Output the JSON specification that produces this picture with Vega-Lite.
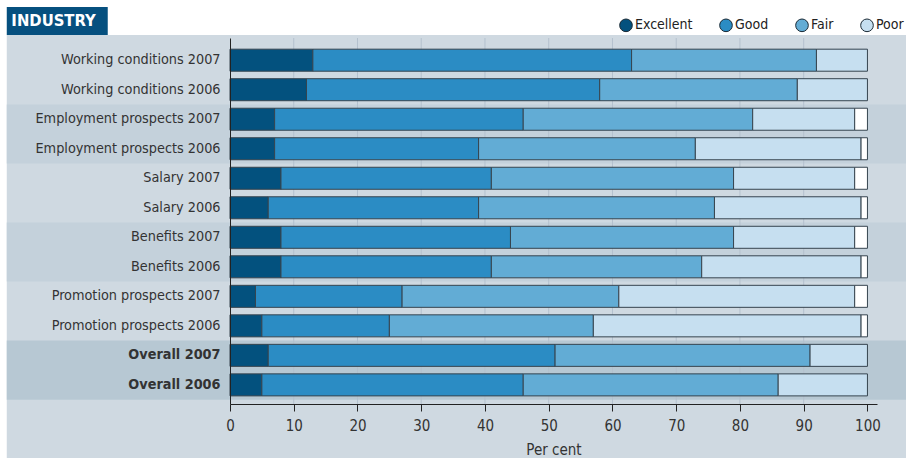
{
  "$schema": "https://vega.github.io/schema/vega-lite/v6.json",
  "width": 647,
  "height": 366,
  "autosize": {"type": "none"},
  "padding": {"left": 230, "top": 38, "right": 29, "bottom": 54},
  "background": "#ffffff",
  "config": {
    "view": {"stroke": null},
    "font": "DejaVu Sans Condensed, sans-serif"
  },
  "datasets": {
    "ratings": [
      {"row": "Working conditions 2007", "rating": "Excellent", "ord": 1, "value": 13},
      {"row": "Working conditions 2007", "rating": "Good", "ord": 2, "value": 50},
      {"row": "Working conditions 2007", "rating": "Fair", "ord": 3, "value": 29},
      {"row": "Working conditions 2007", "rating": "Poor", "ord": 4, "value": 8},
      {"row": "Working conditions 2006", "rating": "Excellent", "ord": 1, "value": 12},
      {"row": "Working conditions 2006", "rating": "Good", "ord": 2, "value": 46},
      {"row": "Working conditions 2006", "rating": "Fair", "ord": 3, "value": 31},
      {"row": "Working conditions 2006", "rating": "Poor", "ord": 4, "value": 11},
      {"row": "Employment prospects 2007", "rating": "Excellent", "ord": 1, "value": 7},
      {"row": "Employment prospects 2007", "rating": "Good", "ord": 2, "value": 39},
      {"row": "Employment prospects 2007", "rating": "Fair", "ord": 3, "value": 36},
      {"row": "Employment prospects 2007", "rating": "Poor", "ord": 4, "value": 16},
      {"row": "Employment prospects 2007", "rating": "Very poor", "ord": 5, "value": 2},
      {"row": "Employment prospects 2006", "rating": "Excellent", "ord": 1, "value": 7},
      {"row": "Employment prospects 2006", "rating": "Good", "ord": 2, "value": 32},
      {"row": "Employment prospects 2006", "rating": "Fair", "ord": 3, "value": 34},
      {"row": "Employment prospects 2006", "rating": "Poor", "ord": 4, "value": 26},
      {"row": "Employment prospects 2006", "rating": "Very poor", "ord": 5, "value": 1},
      {"row": "Salary 2007", "rating": "Excellent", "ord": 1, "value": 8},
      {"row": "Salary 2007", "rating": "Good", "ord": 2, "value": 33},
      {"row": "Salary 2007", "rating": "Fair", "ord": 3, "value": 38},
      {"row": "Salary 2007", "rating": "Poor", "ord": 4, "value": 19},
      {"row": "Salary 2007", "rating": "Very poor", "ord": 5, "value": 2},
      {"row": "Salary 2006", "rating": "Excellent", "ord": 1, "value": 6},
      {"row": "Salary 2006", "rating": "Good", "ord": 2, "value": 33},
      {"row": "Salary 2006", "rating": "Fair", "ord": 3, "value": 37},
      {"row": "Salary 2006", "rating": "Poor", "ord": 4, "value": 23},
      {"row": "Salary 2006", "rating": "Very poor", "ord": 5, "value": 1},
      {"row": "Benefits 2007", "rating": "Excellent", "ord": 1, "value": 8},
      {"row": "Benefits 2007", "rating": "Good", "ord": 2, "value": 36},
      {"row": "Benefits 2007", "rating": "Fair", "ord": 3, "value": 35},
      {"row": "Benefits 2007", "rating": "Poor", "ord": 4, "value": 19},
      {"row": "Benefits 2007", "rating": "Very poor", "ord": 5, "value": 2},
      {"row": "Benefits 2006", "rating": "Excellent", "ord": 1, "value": 8},
      {"row": "Benefits 2006", "rating": "Good", "ord": 2, "value": 33},
      {"row": "Benefits 2006", "rating": "Fair", "ord": 3, "value": 33},
      {"row": "Benefits 2006", "rating": "Poor", "ord": 4, "value": 25},
      {"row": "Benefits 2006", "rating": "Very poor", "ord": 5, "value": 1},
      {"row": "Promotion prospects 2007", "rating": "Excellent", "ord": 1, "value": 4},
      {"row": "Promotion prospects 2007", "rating": "Good", "ord": 2, "value": 23},
      {"row": "Promotion prospects 2007", "rating": "Fair", "ord": 3, "value": 34},
      {"row": "Promotion prospects 2007", "rating": "Poor", "ord": 4, "value": 37},
      {"row": "Promotion prospects 2007", "rating": "Very poor", "ord": 5, "value": 2},
      {"row": "Promotion prospects 2006", "rating": "Excellent", "ord": 1, "value": 5},
      {"row": "Promotion prospects 2006", "rating": "Good", "ord": 2, "value": 20},
      {"row": "Promotion prospects 2006", "rating": "Fair", "ord": 3, "value": 32},
      {"row": "Promotion prospects 2006", "rating": "Poor", "ord": 4, "value": 42},
      {"row": "Promotion prospects 2006", "rating": "Very poor", "ord": 5, "value": 1},
      {"row": "Overall 2007", "rating": "Excellent", "ord": 1, "value": 6},
      {"row": "Overall 2007", "rating": "Good", "ord": 2, "value": 45},
      {"row": "Overall 2007", "rating": "Fair", "ord": 3, "value": 40},
      {"row": "Overall 2007", "rating": "Poor", "ord": 4, "value": 9},
      {"row": "Overall 2006", "rating": "Excellent", "ord": 1, "value": 5},
      {"row": "Overall 2006", "rating": "Good", "ord": 2, "value": 41},
      {"row": "Overall 2006", "rating": "Fair", "ord": 3, "value": 40},
      {"row": "Overall 2006", "rating": "Poor", "ord": 4, "value": 14}
    ],
    "bands": [
      {"row": "Employment prospects 2007", "shade": "mid"},
      {"row": "Employment prospects 2006", "shade": "mid"},
      {"row": "Benefits 2007", "shade": "mid"},
      {"row": "Benefits 2006", "shade": "mid"},
      {"row": "Overall 2007", "shade": "dark"},
      {"row": "Overall 2006", "shade": "dark"}
    ],
    "grid": [
      {"v": 10}, {"v": 20}, {"v": 30}, {"v": 40}, {"v": 50},
      {"v": 60}, {"v": 70}, {"v": 80}, {"v": 90}
    ]
  },
  "layer": [
    {
      "data": {"values": [{}]},
      "mark": {"type": "rect", "fill": "#cfd9e1", "yOffset": -10.5, "y2Offset": 60},
      "encoding": {
        "x": {"datum": -35.02, "type": "quantitative", "scale": {"domain": [0, 101.5], "nice": false, "zero": false}},
        "x2": {"datum": 107},
        "y": {"datum": "Working conditions 2007", "type": "nominal", "bandPosition": 0,
              "scale": {"domain": ["Working conditions 2007", "Working conditions 2006", "Employment prospects 2007", "Employment prospects 2006", "Salary 2007", "Salary 2006", "Benefits 2007", "Benefits 2006", "Promotion prospects 2007", "Promotion prospects 2006", "Overall 2007", "Overall 2006"], "paddingInner": 0, "paddingOuter": 0.2, "align": 0.63}},
        "y2": {"datum": "Overall 2006", "bandPosition": 1}
      }
    },
    {
      "data": {"name": "bands"},
      "mark": {"type": "rect"},
      "encoding": {
        "x": {"datum": -35.02, "type": "quantitative", "scale": {"domain": [0, 101.5], "nice": false, "zero": false}},
        "x2": {"datum": 107},
        "y": {"field": "row", "type": "nominal",
              "scale": {"domain": ["Working conditions 2007", "Working conditions 2006", "Employment prospects 2007", "Employment prospects 2006", "Salary 2007", "Salary 2006", "Benefits 2007", "Benefits 2006", "Promotion prospects 2007", "Promotion prospects 2006", "Overall 2007", "Overall 2006"], "paddingInner": 0, "paddingOuter": 0.2, "align": 0.63}},
        "fill": {"condition": {"test": "datum.shade == 'dark'", "value": "#b7c8d3"}, "value": "#c4d1db"}
      }
    },
    {
      "data": {"name": "grid"},
      "mark": {"type": "rule", "color": "#b4c1ce", "strokeWidth": 1},
      "encoding": {
        "x": {"field": "v", "type": "quantitative", "scale": {"domain": [0, 101.5], "nice": false, "zero": false}}
      }
    },
    {
      "data": {"name": "ratings"},
      "mark": {"type": "bar", "stroke": "#36444f", "strokeWidth": 1, "height": {"band": 0.746}},
      "encoding": {
        "y": {"field": "row", "type": "nominal",
              "scale": {"domain": ["Working conditions 2007", "Working conditions 2006", "Employment prospects 2007", "Employment prospects 2006", "Salary 2007", "Salary 2006", "Benefits 2007", "Benefits 2006", "Promotion prospects 2007", "Promotion prospects 2006", "Overall 2007", "Overall 2006"], "paddingInner": 0, "paddingOuter": 0.2, "align": 0.63},
              "axis": {"title": null, "ticks": false, "domain": true, "domainColor": "#222222", "domainWidth": 1,
                       "labelFontSize": 14.3, "labelColor": "#333333", "labelPadding": 10, "labelLimit": 300, "zindex": 1,
                       "labelFontWeight": {"condition": {"test": "indexof(datum.value, 'Overall') >= 0", "value": "bold"}, "value": "normal"}}},
        "x": {"field": "value", "type": "quantitative", "stack": "zero",
              "scale": {"domain": [0, 101.5], "nice": false, "zero": false},
              "axis": {"values": [0, 10, 20, 30, 40, 50, 60, 70, 80, 90, 100], "title": "Per cent", "grid": false,
                       "tickColor": "#222222", "tickSize": 7, "domainColor": "#222222", "labelFlush": false,
                       "labelFontSize": 15, "labelColor": "#333333", "labelPadding": 7,
                       "titleFontSize": 15, "titleFontWeight": "normal", "titleColor": "#333333", "titlePadding": 9, "zindex": 1}},
        "color": {"field": "rating", "type": "nominal",
                  "scale": {"domain": ["Excellent", "Good", "Fair", "Poor", "Very poor"], "range": ["#03517e", "#2b8cc4", "#62acd5", "#c6dff0", "#ffffff"]},
                  "legend": {"values": ["Excellent", "Good", "Fair", "Poor"], "orient": "none", "legendX": 389, "legendY": -20,
                             "direction": "horizontal", "title": null, "symbolType": "circle", "symbolSize": 160,
                             "symbolStrokeColor": "#1b2a35", "symbolStrokeWidth": 1, "labelFontSize": 14, "labelColor": "#222222",
                             "labelOffset": 2, "columnPadding": 24}},
        "order": {"field": "ord", "type": "quantitative"}
      }
    },
    {
      "data": {"values": [{}]},
      "mark": {"type": "rect", "fill": "#06507f", "yOffset": -38.5, "y2Offset": -10.5},
      "encoding": {
        "x": {"datum": -35.02, "type": "quantitative", "scale": {"domain": [0, 101.5], "nice": false, "zero": false}},
        "x2": {"datum": -19.18},
        "y": {"datum": "Working conditions 2007", "type": "nominal", "bandPosition": 0},
        "y2": {"datum": "Working conditions 2007", "bandPosition": 0}
      }
    },
    {
      "data": {"values": [{}]},
      "mark": {"type": "text", "text": "INDUSTRY", "fill": "#ffffff", "fontWeight": "bold", "fontSize": 16.5, "align": "left", "baseline": "middle", "yOffset": -24.5},
      "encoding": {
        "x": {"datum": -34.3, "type": "quantitative", "scale": {"domain": [0, 101.5], "nice": false, "zero": false}},
        "y": {"datum": "Working conditions 2007", "type": "nominal", "bandPosition": 0}
      }
    }
  ]
}
